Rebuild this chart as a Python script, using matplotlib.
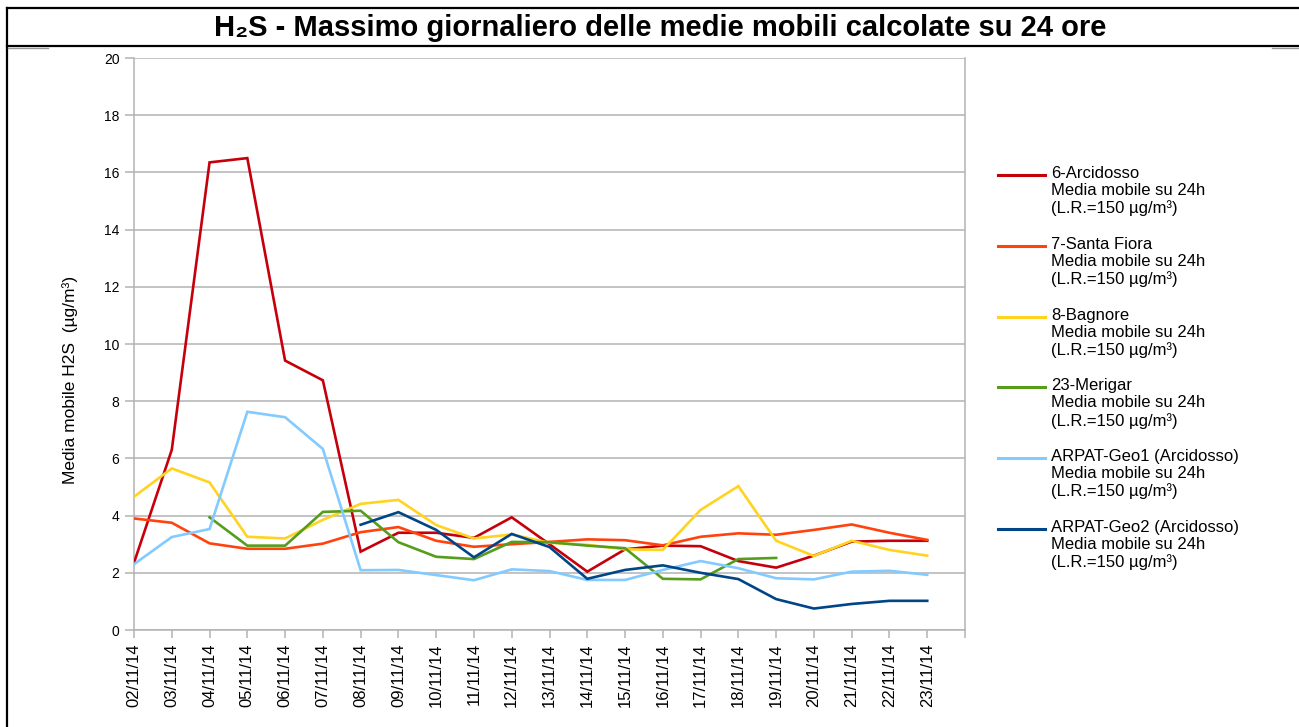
import matplotlib
matplotlib.use("Agg")
import matplotlib.pyplot as plt
from matplotlib.lines import Line2D
import numpy as np

plt.rcParams['font.family'] = ['Liberation Sans', 'DejaVu Sans']

dates = ["02/11/14", "03/11/14", "04/11/14", "05/11/14", "06/11/14", "07/11/14",
         "08/11/14", "09/11/14", "10/11/14", "11/11/14", "12/11/14", "13/11/14",
         "14/11/14", "15/11/14", "16/11/14", "17/11/14", "18/11/14", "19/11/14",
         "20/11/14", "21/11/14", "22/11/14", "23/11/14"]

nan = np.nan
arcidosso = [2.35, 6.3, 16.35, 16.5, 9.42, 8.73, 2.74, 3.4, 3.4, 3.22, 3.94, 3.0,
             2.04, 2.82, 2.95, 2.93, 2.41, 2.18, 2.6, 3.09, 3.12, 3.12]
santa_fiora = [3.9, 3.75, 3.03, 2.84, 2.84, 3.02, 3.42, 3.6, 3.12, 2.91, 3.0, 3.08,
               3.17, 3.14, 2.96, 3.26, 3.38, 3.33, 3.5, 3.69, 3.4, 3.15]
bagnore = [4.66, 5.65, 5.16, 3.26, 3.2, 3.85, 4.41, 4.55, 3.67, 3.2, 3.34, 3.05,
           2.98, 2.82, 2.8, 4.2, 5.03, 3.12, 2.59, 3.12, 2.8, 2.6]
merigar = [nan, nan, 3.94, 2.95, 2.95, 4.13, 4.17, 3.07, 2.56, 2.48, 3.08, 3.07,
           2.95, 2.86, 1.79, 1.77, 2.48, 2.52, nan, nan, nan, nan]
geo1 = [2.3, 3.25, 3.53, 7.63, 7.44, 6.33, 2.09, 2.1, 1.92, 1.74, 2.12, 2.06,
        1.75, 1.75, 2.1, 2.41, 2.16, 1.81, 1.77, 2.04, 2.07, 1.93]
geo2 = [nan, nan, nan, nan, nan, nan, 3.68, 4.12, 3.5, 2.54, 3.36, 2.9,
        1.79, 2.1, 2.26, 2.0, 1.78, 1.08, 0.75, 0.91, 1.02, 1.02]

series_names = ["6-Arcidosso", "7-Santa Fiora", "8-Bagnore", "23-Merigar",
                "ARPAT-Geo1 (Arcidosso)", "ARPAT-Geo2 (Arcidosso)"]
series_values = [arcidosso, santa_fiora, bagnore, merigar, geo1, geo2]
colors = ["#C5000B", "#FF420E", "#FFD320", "#579D1C", "#83CAFF", "#004586"]
sub_label = "Media mobile su 24h\n(L.R.=150 µg/m³)"

W, H = 1299, 727
fig = plt.figure(figsize=(W / 100, H / 100), dpi=100)
fig.patch.set_facecolor("white")

def fx(px):
    return px / W

def fy(py):
    return 1 - py / H

ax = fig.add_axes([fx(134), fy(630), fx(965) - fx(134), fy(58) - fy(630)])

x = np.arange(len(dates))
for vals, c in zip(series_values, colors):
    ax.plot(x, vals, color=c, lw=1.9, solid_joinstyle="miter", zorder=3)

ax.set_xlim(0, 22)
ax.set_ylim(0, 20)
ax.set_yticks(np.arange(0, 21, 2))
ax.set_xticks(np.arange(0, 23))
ax.set_xticklabels(dates + [""], rotation=90, fontsize=12, color="black")
ax.tick_params(axis="x", length=5.5, width=1.1, color="#b3b3b3", pad=4)
ax.tick_params(axis="y", length=6.5, width=1.1, color="#b3b3b3", pad=4, labelsize=10)
ax.yaxis.grid(True, color="#b3b3b3", lw=1.1, zorder=0)
ax.set_axisbelow(True)
for side in ["left", "bottom", "right"]:
    ax.spines[side].set_color("#b3b3b3")
    ax.spines[side].set_linewidth(1.1)
ax.spines["top"].set_visible(False)

fig.text(fx(70), fy(380), "Media mobile H2S  (µg/m³)", rotation=90,
         ha="center", va="center", fontsize=12.5)

# title and frame
fig.text(fx(660), fy(28), "H₂S - Massimo giornaliero delle medie mobili calcolate su 24 ore",
         ha="center", va="center", fontsize=21, fontweight="bold")
fig.add_artist(Line2D([fx(7), 1], [fy(8), fy(8)], color="black", lw=1.6))
fig.add_artist(Line2D([fx(7), 1], [fy(46), fy(46)], color="black", lw=1.6))
fig.add_artist(Line2D([fx(7), fx(7)], [fy(8), 0], color="black", lw=1.6))
fig.add_artist(Line2D([fx(8), fx(48)], [fy(48), fy(48)], color="#999999", lw=1.0))
fig.add_artist(Line2D([fx(1272), 1], [fy(48), fy(48)], color="#999999", lw=1.0))

# legend
y0 = 175
step = 70.8
for i, (name, c) in enumerate(zip(series_names, colors)):
    yy = y0 + i * step
    fig.add_artist(Line2D([fx(998), fx(1045)], [fy(yy), fy(yy)], color=c, lw=2.2))
    fig.text(fx(1051), fy(yy - 9), name + "\n" + sub_label, ha="left", va="top",
             fontsize=12, linespacing=1.17)

fig.savefig("out.png", dpi=100, facecolor="white")
